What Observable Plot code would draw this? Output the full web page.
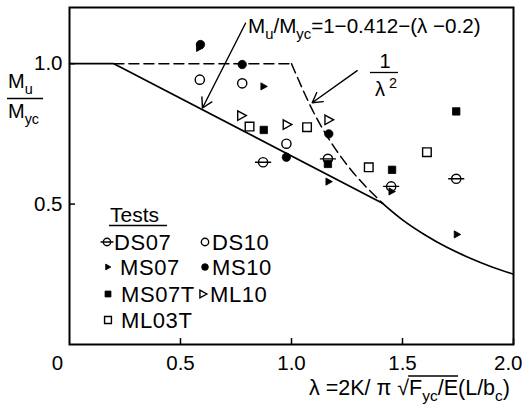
<!DOCTYPE html>
<html><head><meta charset="utf-8">
<script src="https://cdn.jsdelivr.net/npm/d3@7"></script>
<script src="https://cdn.jsdelivr.net/npm/@observablehq/plot@0.6"></script>
<style>body{margin:0;background:#fff} svg{display:block}</style>
</head><body><div id="chart"></div>
<script>
// ---- data ----
const DS07_lambda = [0.872, 1.164, 1.449, 1.742];
const DS07_ratio  = [0.649, 0.661, 0.563, 0.590];
const DS10_lambda = [0.587, 0.778, 0.977];
const DS10_ratio  = [0.943, 0.930, 0.715];
const MS07_lambda = [0.585, 0.875, 1.168, 1.452, 1.746];
const MS07_ratio  = [1.056, 0.919, 0.580, 0.545, 0.392];
const MS10_lambda = [0.590, 0.778, 0.977, 1.168];
const MS10_ratio  = [1.068, 0.997, 0.667, 0.750];
const MS07T_lambda = [0.875, 1.164, 1.453, 1.742];
const MS07T_ratio  = [0.764, 0.643, 0.622, 0.830];
const ML10_lambda = [0.775, 0.980, 1.168];
const ML10_ratio  = [0.815, 0.783, 0.800];
const ML03T_lambda = [0.811, 1.070, 1.348, 1.610];
const ML03T_ratio  = [0.776, 0.774, 0.631, 0.685];

// design curves
const solidLinLambda = [0, 0.2, 1.41];
const solidLinRatio  = [1.0, 1.0, 0.503];
const solidCurveLambda = [1.41, 1.5, 1.6, 1.7, 1.8, 1.9, 2.0];
const solidCurveRatio  = [0.503, 0.444, 0.391, 0.346, 0.309, 0.277, 0.25];
const dashFlatLambda = [0.2, 1.0];
const dashFlatRatio  = [1.0, 1.0];
const dashCurveLambda = [1.0, 1.1, 1.2, 1.3, 1.41];
const dashCurveRatio  = [1.0, 0.826, 0.694, 0.592, 0.503];

// annotation arrows (tail -> head)
const arrowFromLambda = [0.793, 1.296];
const arrowFromRatio  = [1.144, 0.975];
const arrowToLambda   = [0.599, 1.093];
const arrowToRatio    = [0.842, 0.861];

// ticks
const xTickValues = [0.5, 1.0, 1.5, 2.0];
const xInnerLabels = [0.5, 1.0, 1.5];
const xEdgeLabel = [2.0];
const yTickValues = [0.5, 1.0];
const originTick = [0];

const FONT = "'Liberation Sans', Arial, Helvetica, sans-serif";
const fmt = d3.format(".1f");

const pts = (xs, ys) => xs.map((x, i) => ({x, y: ys[i]}));

// custom symbols
const circleSym = {draw(c, s) { const r = Math.sqrt(s / Math.PI); c.moveTo(r, 0); c.arc(0, 0, r, 0, 2 * Math.PI); }};
const dsSym = {draw(c, s) { const r = Math.sqrt(s / Math.PI); c.moveTo(r, 0); c.arc(0, 0, r, 0, 2 * Math.PI); c.moveTo(-1.75 * r, 0); c.lineTo(1.75 * r, 0); }};
const triSym = {draw(c, s) { const r = Math.sqrt(s / Math.PI); c.moveTo(-0.8 * r, -r); c.lineTo(r, 0); c.lineTo(-0.8 * r, r); c.closePath(); }};
const sqSym = {draw(c, s) { const r = Math.sqrt(s / Math.PI); c.rect(-r, -r, 2 * r, 2 * r); }};

const series = [
  {name: "DS07", xs: DS07_lambda, ys: DS07_ratio, sym: dsSym, r: 4.6, fill: "white", sw: 1.4},
  {name: "DS10", xs: DS10_lambda, ys: DS10_ratio, sym: circleSym, r: 4.6, fill: "white", sw: 1.4},
  {name: "MS07", xs: MS07_lambda, ys: MS07_ratio, sym: triSym, r: 3.6, fill: "black", sw: 0.8},
  {name: "MS10", xs: MS10_lambda, ys: MS10_ratio, sym: circleSym, r: 4.2, fill: "black", sw: 0.8},
  {name: "MS07T", xs: MS07T_lambda, ys: MS07T_ratio, sym: sqSym, r: 3.7, fill: "black", sw: 0.8},
  {name: "ML10", xs: ML10_lambda, ys: ML10_ratio, sym: triSym, r: 4.8, fill: "white", sw: 1.4},
  {name: "ML03T", xs: ML03T_lambda, ys: ML03T_ratio, sym: sqSym, r: 4.3, fill: "white", sw: 1.4}
];

const chart = Plot.plot({
  width: 522, height: 404,
  marginLeft: 69, marginRight: 9, marginTop: 7, marginBottom: 60,
  x: {domain: [0, 2]},
  y: {domain: [0, 1.2]},
  style: {fontFamily: FONT, fontSize: "20.5px", background: "white", color: "black"},
  marks: [
    Plot.line(pts(solidLinLambda, solidLinRatio), {x: "x", y: "y", stroke: "black", strokeWidth: 1.7}),
    Plot.line(pts(solidCurveLambda, solidCurveRatio), {x: "x", y: "y", stroke: "black", strokeWidth: 1.7, curve: "natural"}),
    Plot.line(pts(dashFlatLambda, dashFlatRatio), {x: "x", y: "y", stroke: "black", strokeWidth: 1.5, strokeDasharray: "10,5"}),
    Plot.line(pts(dashCurveLambda, dashCurveRatio), {x: "x", y: "y", stroke: "black", strokeWidth: 1.5, strokeDasharray: "10,5", curve: "natural"}),
    Plot.arrow(arrowFromLambda.map((x1, i) => ({x1, y1: arrowFromRatio[i], x2: arrowToLambda[i], y2: arrowToRatio[i]})),
      {x1: "x1", y1: "y1", x2: "x2", y2: "y2", bend: 0, headLength: 12, strokeWidth: 1.4, stroke: "black"}),
    ...series.map(s => Plot.dot(pts(s.xs, s.ys), {x: "x", y: "y", symbol: s.sym, r: s.r, fill: s.fill, stroke: "black", strokeWidth: s.sw})),
    Plot.frame({stroke: "black", strokeWidth: 2}),
    Plot.axisX({ticks: xTickValues, tickSize: -6, strokeWidth: 1.5, text: null, label: null}),
    Plot.text(xInnerLabels, {x: d => d, frameAnchor: "bottom", dy: 19, text: d => fmt(d), lineAnchor: "middle"}),
    Plot.text(xEdgeLabel, {x: d => d, frameAnchor: "bottom", dy: 19, dx: 9, textAnchor: "end", text: d => fmt(d), lineAnchor: "middle"}),
    Plot.axisY({ticks: yTickValues, tickFormat: fmt, tickSize: -6, tickPadding: 13, strokeWidth: 1.5, label: null}),
    Plot.text(originTick, {x: d => d, frameAnchor: "bottom", dx: -12, dy: 19, text: d => String(d), lineAnchor: "middle"})
  ]
});
document.getElementById("chart").append(chart);

// ---- annotations, axis titles, legend ----
const svg = d3.select(chart);
const g = svg.append("g").attr("font-family", FONT).attr("fill", "black").attr("text-anchor", "start");

function rich(x, y, parts, size, anchor = "start") {
  const t = g.append("text").attr("x", x).attr("y", y).attr("font-size", size).attr("text-anchor", anchor);
  let cur = 0;
  for (const [s, k] of parts) {
    const off = k === "sub" ? size * 0.28 : k === "sup" ? -size * 0.42 : 0;
    t.append("tspan").attr("dy", off - cur).attr("font-size", k ? size * 0.72 : size).text(s);
    cur = off;
  }
  return t;
}
function hline(x1, x2, y, w = 1.3) {
  g.append("line").attr("x1", x1).attr("x2", x2).attr("y1", y).attr("y2", y).attr("stroke", "black").attr("stroke-width", w);
}

// formula annotation
rich(248, 33, [["M"], ["u", "sub"], ["/M"], ["yc", "sub"], ["=1\u22120.412\u2212(\u03bb \u22120.2)"]], 20.6);
// 1/λ² annotation
rich(385, 68, [["1"]], 20, "middle");
hline(370, 398, 72.5, 1.3);
rich(375, 96, [["\u03bb"], [" 2", "sup"]], 20);

// y-axis title
rich(8, 88, [["M"], ["u", "sub"]], 20);
hline(7, 43, 98.5, 1.3);
rich(8, 118, [["M"], ["yc", "sub"]], 20);

// x-axis title
const xt = rich(510, 395, [["\u03bb =2K/ \u03c0 "], ["\u221a"], ["F"], ["yc", "sub"], ["/E"], ["(L/b"], ["c", "sub"], [")"]], 21.5, "end");
{
  const node = xt.node();
  const full = node.textContent;
  const iR = full.indexOf("\u221a");
  const iE = full.indexOf("/E") + 1;
  const x1 = node.getEndPositionOfChar(iR).x - 1;
  const x2 = node.getEndPositionOfChar(iE).x;
  hline(x1, x2, 376, 1.3);
}

// legend
const L = g.append("g").attr("text-anchor", "start");
L.append("text").attr("x", 110).attr("y", 222).attr("font-size", 21).text("Tests");
hline(109, 167, 225.5, 1.3);
const legendRows = [
  {name: "DS07", cx: 107, tx: 114, y: 242},
  {name: "MS07", cx: 108, tx: 120, y: 267},
  {name: "MS07T", cx: 108, tx: 121, y: 294},
  {name: "ML03T", cx: 108, tx: 121, y: 320},
  {name: "DS10", cx: 205, tx: 212, y: 242},
  {name: "MS10", cx: 205, tx: 212, y: 267},
  {name: "ML10", cx: 203, tx: 210, y: 294}
];
for (const row of legendRows) {
  const s = series.find(d => d.name === row.name);
  const rr = s.r * 0.8;
  L.append("path").attr("transform", `translate(${row.cx},${row.y})`)
    .attr("d", d3.symbol(s.sym, rr * rr * Math.PI)())
    .attr("fill", s.fill).attr("stroke", "black").attr("stroke-width", s.sw);
  L.append("text").attr("x", row.tx).attr("y", row.y + 7.8).attr("font-size", 22).attr("letter-spacing", 0.6)
    .attr("text-anchor", "start").text(s.name);
}
</script></body></html>
